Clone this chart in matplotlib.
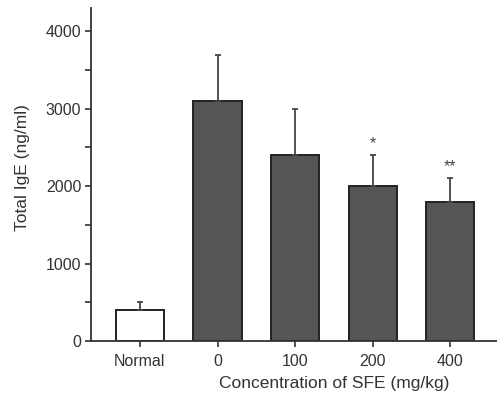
import matplotlib
matplotlib.use("Agg")
import matplotlib.pyplot as plt
import matplotlib.transforms as mtransforms
from matplotlib.ticker import MultipleLocator

plt.rcParams['font.family'] = ['Liberation Sans', 'DejaVu Sans']

groups = ['Normal', '0', '100', '200', '400']
ige = [400, 3100, 2400, 2000, 1800]
err = [100, 600, 600, 400, 300]
signif = ['', '', '', '*', '**']
colors = ['white', '#555555', '#555555', '#555555', '#555555']

fig = plt.figure(figsize=(4.97, 4.05), dpi=100)
ax = fig.add_axes([0.183, 0.158, 0.817, 0.822])

x = range(len(groups))
ax.bar(x, ige, width=0.62, color=colors, edgecolor='#222222', linewidth=1.4,
       yerr=[[0] * len(err), err], capsize=2.5,
       error_kw=dict(ecolor='#444444', elinewidth=1.3, capthick=1.3))

for i, s in enumerate(signif):
    if s:
        ax.text(i, ige[i] + err[i] + 50, s, ha='center', va='bottom',
                fontsize=11.5, color='#444444')

ax.set_xlim(-0.63, 4.6)
ax.set_ylim(0, 4300)
ax.set_xticks(list(x))
ax.set_xticklabels(groups)
ax.yaxis.set_major_locator(MultipleLocator(1000))
ax.yaxis.set_minor_locator(MultipleLocator(500))

for s in ['top', 'right']:
    ax.spines[s].set_visible(False)
for s in ['left', 'bottom']:
    ax.spines[s].set_linewidth(1.3)
    ax.spines[s].set_color('#333333')

ax.tick_params(axis='both', which='major', labelsize=11.5, colors='#333333',
               length=4, width=1.2, direction='out')
ax.tick_params(axis='y', which='minor', length=4, width=1.2, color='#333333')
ax.tick_params(axis='y', pad=3)
ax.tick_params(axis='x', pad=5)

ax.set_ylabel('Total IgE (ng/ml)', fontsize=12.5, color='#333333')
ax.yaxis.set_label_coords(-0.15, 0.52)

# x label sits centred under the SFE dose groups, not the whole axis
ax.set_xlabel('Concentration of SFE (mg/kg)', fontsize=12.5, color='#333333')
blend = mtransforms.blended_transform_factory(ax.transData, ax.transAxes)
ax.xaxis.set_label_coords(2.5, -0.105, transform=blend)

fig.savefig('out.png', dpi=100)
